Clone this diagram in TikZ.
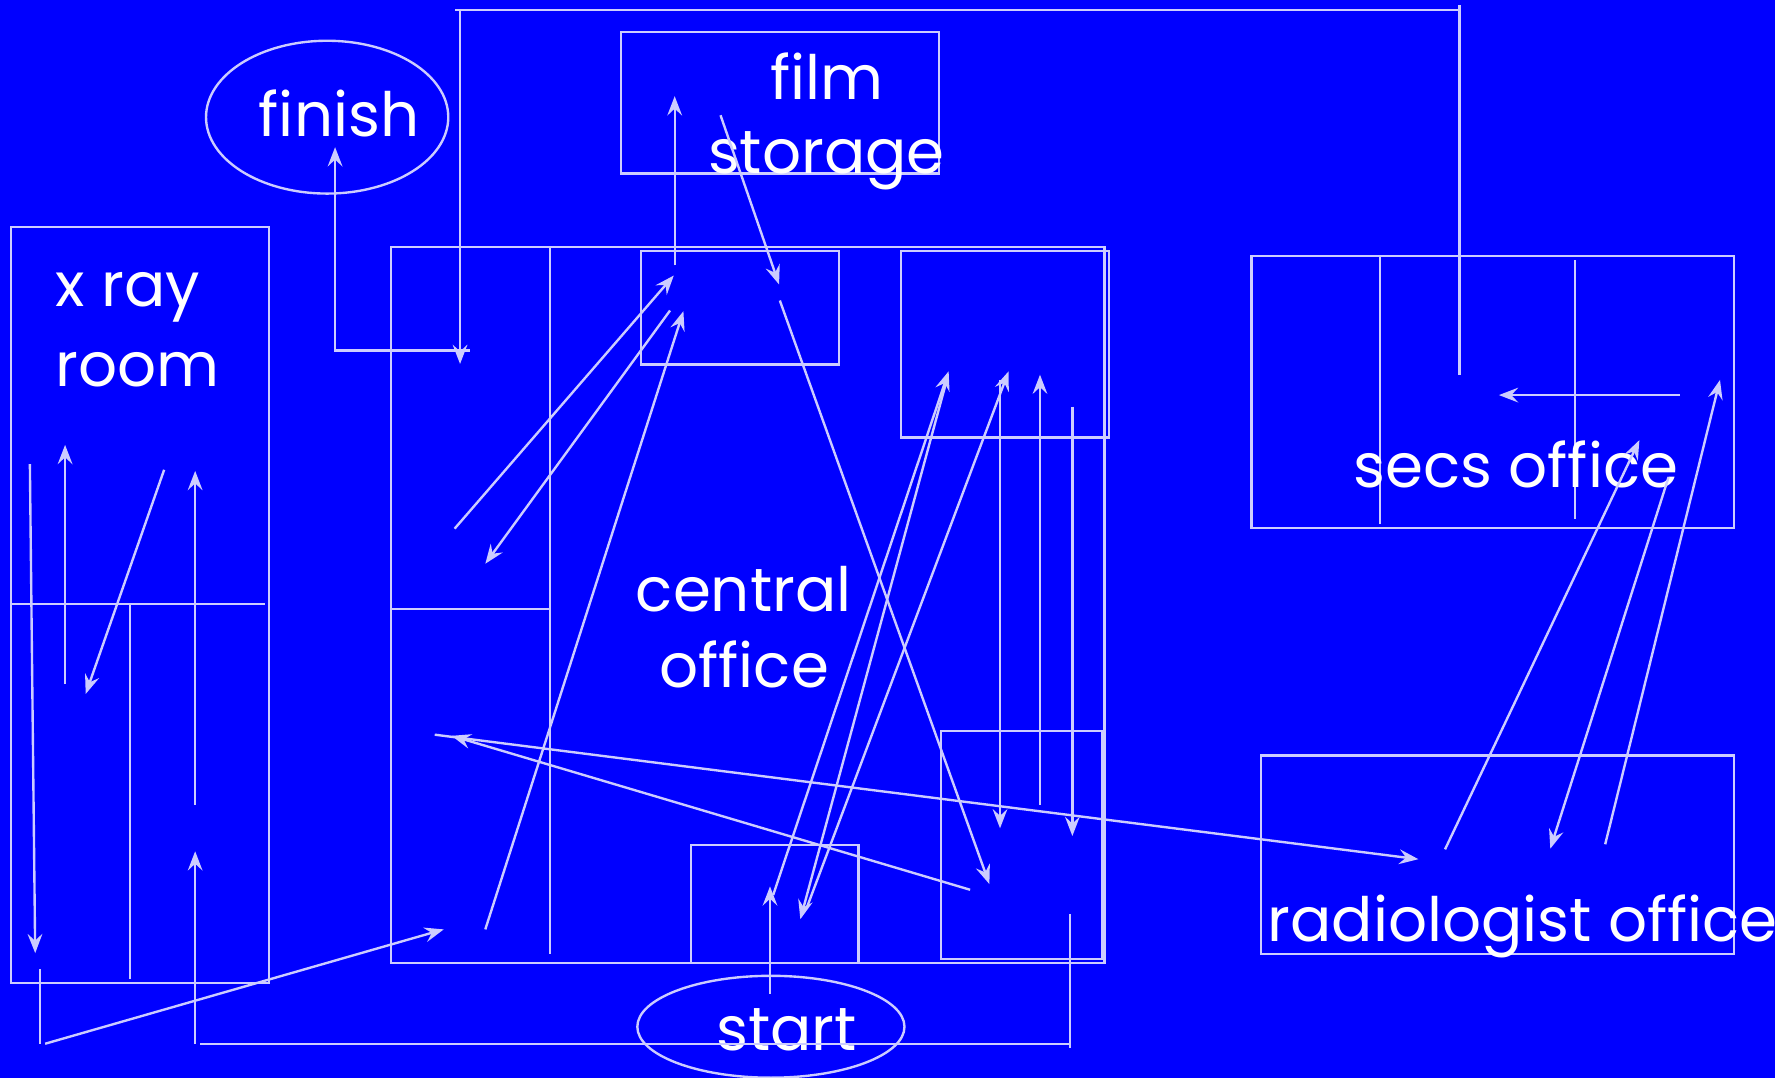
\documentclass[tikz,border=0pt]{standalone}
\usepackage{fontspec}
\setmainfont{Poppins}
\usetikzlibrary{arrows.meta}
\definecolor{bgblue}{RGB}{0,0,255}
\definecolor{lav}{RGB}{204,204,255}
\begin{document}
\begin{tikzpicture}[x=1pt,y=-1pt,
  wall/.style={draw=lav,line width=2.1pt},
  flow/.style={draw=lav,line width=2.1pt,-{Stealth[length=17pt,width=13pt,inset=6pt]}},
  plain/.style={draw=lav,line width=2.1pt},
  lbl/.style={text=white,anchor=base,inner sep=0pt,font=\fontsize{54}{60}\selectfont}
]
\useasboundingbox (0,0) rectangle (1568,952);
\fill[bgblue] (0,0) rectangle (1568,952);
\clip (0,0) rectangle (1568,952);

% rooms
\draw[wall] (9.5,200.6) rectangle (237.7,868.5);
\draw[wall] (9.5,533.7) -- (234,533.7);
\draw[wall] (115,534) -- (115,865);
\draw[wall] (289,103.5) ellipse [x radius=107, y radius=67.5];
\draw[wall] (548.6,28) rectangle (829.5,153.4);
\draw[wall] (345.5,218.3) rectangle (975.6,850.7);
\draw[wall] (485.8,218.3) -- (485.8,843);
\draw[wall] (345.5,538) -- (485.8,538);
\draw[wall] (566.2,221.8) rectangle (741.3,322.1);
\draw[wall] (795.7,221.8) rectangle (979.6,386.6);
\draw[wall] (831.5,646) rectangle (974,847);
\draw[wall] (610.5,850.7) |- (758.5,746.5) -- (758.5,850.7);
\draw[wall] (681,907) ellipse [x radius=118, y radius=45];
\draw[wall] (1105.5,226) rectangle (1531.8,466.4);
\draw[wall] (1218.8,226) -- (1218.8,463.3);
\draw[wall] (1391.2,229.7) -- (1391.2,458.8);
\draw[wall] (1113.8,667.3) rectangle (1531.7,842.8);

% labels
\node[lbl] (finish) at (299.5,121) {finish};
\node[lbl] (xray) at (113,271) {x ray};
\node[lbl] (room) at (121.5,341) {room};
\node[lbl] (film) at (730.6,87.6) {film};
\node[lbl] (storage) at (730,153.4) {storage};
\node[lbl] (central) at (657,540) {central};
\node[lbl] (office) at (657.5,607) {office};
\node[lbl] (secs) at (1339,430.5) {secs office};
\node[lbl] (radio) at (1345,831.5) {radiologist office};
\node[lbl] (start) at (695,928) {start};

% coordinates
\coordinate (t0) at (406.4,8.8);
\coordinate (t1) at (406.4,321.5);
\coordinate (t2) at (402.3,8.8);
\coordinate (t3) at (1289.4,8.8);
\coordinate (t4) at (1289.4,4.6);
\coordinate (t5) at (1289.4,331);
\coordinate (f0) at (415,309.7);
\coordinate (f1) at (296,309.7);
\coordinate (f2) at (296,130);
\coordinate (k0) at (596,234.5);
\coordinate (k1) at (596,85);
\coordinate (l0) at (636.5,101.8);
\coordinate (l1) at (688.2,251.3);
\coordinate (h0) at (401.6,467);
\coordinate (h1) at (595.2,243.4);
\coordinate (i0) at (591.9,274.3);
\coordinate (i1) at (428.7,498);
\coordinate (j0) at (428.7,821);
\coordinate (j1) at (603.7,274.9);
\coordinate (m0) at (688.9,265.5);
\coordinate (m1) at (874,781);
\coordinate (n0) at (384,649);
\coordinate (n1) at (1253,759);
\coordinate (o0) at (857,786);
\coordinate (o1) at (399,650);
\coordinate (a0) at (683,790.6);
\coordinate (a1) at (838,328);
\coordinate (b0) at (836,337);
\coordinate (b1) at (707,812);
\coordinate (c0) at (713,801);
\coordinate (c1) at (891,328);
\coordinate (p0) at (883.4,335.7);
\coordinate (p1) at (883.4,731.7);
\coordinate (q0) at (918.7,711);
\coordinate (q1) at (918.7,331);
\coordinate (r0) at (947.3,359.3);
\coordinate (r1) at (947.3,738.5);
\coordinate (s0) at (945,807.5);
\coordinate (s1) at (945,926);
\coordinate (s2) at (945,922);
\coordinate (s3) at (176.8,922);
\coordinate (u0) at (172.4,922);
\coordinate (u1) at (172.4,752);
\coordinate (v0) at (35.5,856);
\coordinate (v1) at (35.5,922);
\coordinate (v2) at (39.9,922);
\coordinate (v3) at (392,821);
\coordinate (st0) at (680.2,878);
\coordinate (st1) at (680.2,783);
\coordinate (w0) at (26.4,410);
\coordinate (w1) at (31.1,842);
\coordinate (x0) at (57.5,604);
\coordinate (x1) at (57.5,393);
\coordinate (y0) at (145,415);
\coordinate (y1) at (75.7,613);
\coordinate (z0) at (172.4,711);
\coordinate (z1) at (172.4,416);
\coordinate (d0) at (1276.5,750.3);
\coordinate (d1) at (1448.2,388.8);
\coordinate (e0) at (1474,421.4);
\coordinate (e1) at (1369.5,749.7);
\coordinate (g0) at (1418,745.8);
\coordinate (g1) at (1519.4,335.6);
\coordinate (gg0) at (1483.8,349);
\coordinate (gg1) at (1324.1,349);

% connectors
\draw[flow] (t0) -- (t1);
\draw[plain] (t2) -- (t3);
\draw[plain] (t4) -- (t5);
\draw[flow] (f0) -- (f1) -- (f2);
\draw[flow] (k0) -- (k1);
\draw[flow] (l0) -- (l1);
\draw[flow] (h0) -- (h1);
\draw[flow] (i0) -- (i1);
\draw[flow] (j0) -- (j1);
\draw[flow] (m0) -- (m1);
\draw[flow] (n0) -- (n1);
\draw[flow] (o0) -- (o1);
\draw[flow] (a0) -- (a1);
\draw[flow] (b0) -- (b1);
\draw[flow] (c0) -- (c1);
\draw[flow] (p0) -- (p1);
\draw[flow] (q0) -- (q1);
\draw[flow] (r0) -- (r1);
\draw[plain] (s0) -- (s1);
\draw[plain] (s2) -- (s3);
\draw[flow] (u0) -- (u1);
\draw[plain] (v0) -- (v1);
\draw[flow] (v2) -- (v3);
\draw[flow] (st0) -- (st1);
\draw[flow] (w0) -- (w1);
\draw[flow] (x0) -- (x1);
\draw[flow] (y0) -- (y1);
\draw[flow] (z0) -- (z1);
\draw[flow] (d0) -- (d1);
\draw[flow] (e0) -- (e1);
\draw[flow] (g0) -- (g1);
\draw[flow] (gg0) -- (gg1);
\end{tikzpicture}
\end{document}
